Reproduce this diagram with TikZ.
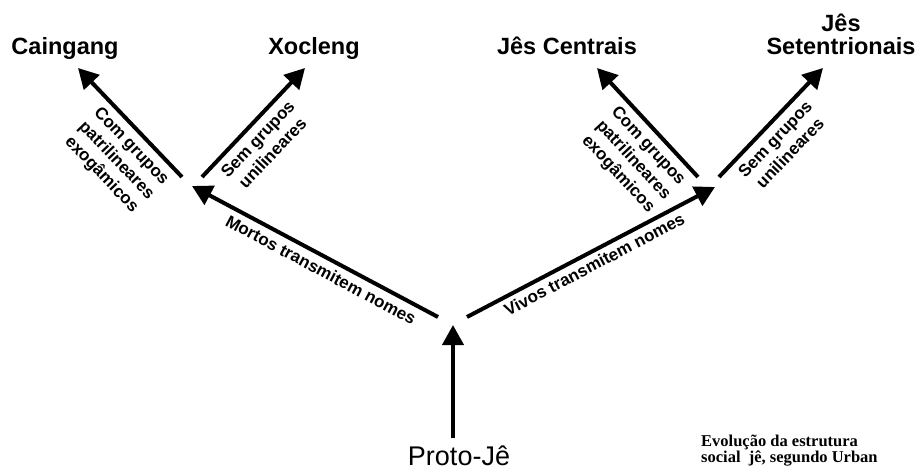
\documentclass[tikz,border=0pt]{standalone}
\usepackage{fontspec}
\setmainfont{Liberation Sans}
\newfontfamily\capfont{Liberation Serif}
\usetikzlibrary{arrows.meta}
\begin{document}
\begin{tikzpicture}[x=1pt,y=-1pt,
  arr/.style={line width=4pt, -{Triangle[length=20pt,width=21pt]}},
  title/.style={font=\fontsize{23.5}{23}\selectfont\bfseries, inner sep=0pt, anchor=base, align=center},
  lbl/.style={font=\fontsize{17}{20.5}\selectfont\bfseries, inner sep=0pt, sloped, align=center},
]
\useasboundingbox (0,0) rectangle (922,468);

% coordinates
\coordinate (pB) at (453,438);
\coordinate (pT) at (453,325);
\coordinate (mT) at (438,317);
\coordinate (mH) at (192,186);
\coordinate (vT) at (467,317);
\coordinate (vH) at (715,187);
\coordinate (cT) at (182,177);
\coordinate (cH) at (78,68);
\coordinate (xT) at (202,177);
\coordinate (xH) at (305,68);
\coordinate (jcT) at (698,177);
\coordinate (jcH) at (597,68);
\coordinate (jsT) at (719,177);
\coordinate (jsH) at (823,68);

% titles
\node[title] (cain) at (65,55) {Caingang};
\node[title] (xoc) at (314,55) {Xocleng};
\node[title] (jc) at (567,55) {Jês Centrais};
\node[title] (js) at (841,55) {Jês\\Setentrionais};
\node[font=\fontsize{27}{27}\selectfont, inner sep=0pt, anchor=base] (proto) at (459,465) {Proto-Jê};
\node[font={\capfont\bfseries\fontsize{16.5}{16}\selectfont}, align=left, anchor=base west, inner sep=0pt] (cap) at (701,462) {Evolução da estrutura\\social\ \ jê, segundo Urban};

% arrows
\draw[arr] (pB) -- (pT);
\draw[arr] (mT) -- (mH);
\draw[arr] (vT) -- (vH);
\draw[arr] (cT) -- (cH);
\draw[arr] (xT) -- (xH);
\draw[arr] (jcT) -- (jcH);
\draw[arr] (jsT) -- (jsH);

% labels
\path (mH) -- (mT) node[lbl, pos=0.55, below=7pt] (lm) {Mortos transmitem nomes};
\path (vT) -- (vH) node[lbl, pos=0.49, below=6pt] (lv) {Vivos transmitem nomes};
\path (cH) -- (cT) node[lbl, pos=0.62, below=8pt] (lc) {Com grupos\\patrilineares\\exogâmicos};
\path (xT) -- (xH) node[lbl, pos=0.44, below=8pt] (lx) {Sem grupos\\unilineares};
\path (jcH) -- (jcT) node[lbl, pos=0.62, below=8pt] (ljc) {Com grupos\\patrilineares\\exogâmicos};
\path (jsT) -- (jsH) node[lbl, pos=0.44, below=8pt] (ljs) {Sem grupos\\unilineares};
\end{tikzpicture}
\end{document}
